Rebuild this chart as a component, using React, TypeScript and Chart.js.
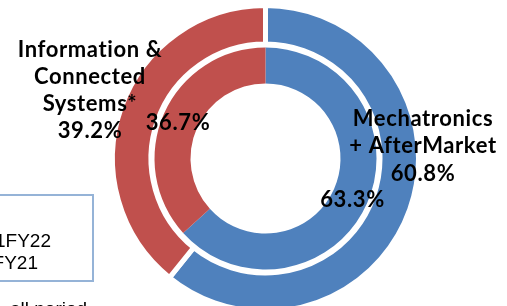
import React, { useEffect, useRef } from "react";
import { Chart, registerables } from "chart.js";

Chart.register(...registerables);

// ---- data ----
const segments = ["Mechatronics + AfterMarket", "Information & Connected Systems*"];
const outerValues = [60.8, 39.2]; // outer ring (H1FY22)
const innerValues = [63.3, 36.7]; // inner ring (FY21)
const segmentColors = ["#4F81BD", "#C0504D"];
const leftLabelLines = ["Information &", "Connected", "Systems*"];
const rightLabelLines = ["Mechatronics", "+ AfterMarket"];
const legendLines = ["H1FY22", "FY21"];
const footnote = "all period";

const pct = (v: number) => `${v.toFixed(1)}%`;

export default function App() {
  const ref = useRef<HTMLCanvasElement>(null);

  useEffect(() => {
    const canvas = ref.current!;
    const labelsPlugin = {
      id: "manualLabels",
      afterDraw(chart: any) {
        const ctx = chart.ctx as CanvasRenderingContext2D;
        const arc = chart.getDatasetMeta(0).data[0];
        const cx = arc.x;
        const cy = arc.y;
        ctx.save();
        ctx.fillStyle = "#000";
        ctx.textBaseline = "alphabetic";
        ctx.textAlign = "center";
        ctx.font = "bold 22px Lato";
        (ctx as any).letterSpacing = "0.6px";
        // left block
        const leftLines = [...leftLabelLines, pct(outerValues[1])];
        leftLines.forEach((t, i) => ctx.fillText(t, cx - 175.5, cy - 101.2 + i * 27));
        ctx.fillText(pct(innerValues[1]), cx - 87.5, cy - 28.5);
        // right block
        const rightLines = [...rightLabelLines, pct(outerValues[0])];
        rightLines.forEach((t, i) => ctx.fillText(t, cx + 157.5, cy - 32.5 + i * 27.3));
        ctx.fillText(pct(innerValues[0]), cx + 87, cy + 48.2);
        (ctx as any).letterSpacing = "0px";

        // legend box (partially off-page)
        ctx.strokeStyle = "#95B3D7";
        ctx.lineWidth = 2;
        ctx.strokeRect(-10, 195, 103, 86);
        ctx.font = "19px 'Liberation Sans', Arial, sans-serif";
        ctx.textAlign = "right";
        ctx.fillText(legendLines[0], 51, 246.7);
        ctx.fillText(legendLines[1], 38, 268.7);
        ctx.textAlign = "left";
        ctx.fillText(footnote, 10, 315);
        ctx.restore();
      },
    };

    const chart = new Chart(canvas, {
      type: "doughnut",
      data: {
        labels: segments,
        datasets: [
          {
            label: "H1FY22",
            data: outerValues,
            backgroundColor: segmentColors,
            borderColor: "#ffffff",
            borderWidth: 5,
            hoverBorderWidth: 5,
            hoverOffset: 0,
            offset: 0,
            weight: 38.5,
          } as any,
          {
            label: "gap",
            data: [1],
            backgroundColor: "rgba(0,0,0,0)",
            borderWidth: 0,
            hoverOffset: 0,
            weight: 3.5,
          } as any,
          {
            label: "FY21",
            data: innerValues,
            backgroundColor: segmentColors,
            borderWidth: 0,
            hoverOffset: 0,
            weight: 36,
          } as any,
        ],
      },
      options: {
        responsive: false,
        animation: false,
        cutout: 75,
        events: [],
        layout: { padding: { left: 110, right: 86, top: 3, bottom: 0 } },
        plugins: {
          legend: { display: false },
          tooltip: { enabled: false },
        },
      } as any,
      plugins: [labelsPlugin],
    });
    return () => chart.destroy();
  }, []);

  return (
    <div style={{ position: "absolute", left: 0, top: 0, width: 507, height: 306, overflow: "hidden", background: "#fff" }}>
      <canvas ref={ref} width={507} height={314} style={{ display: "block", width: 507, height: 314 }} />
    </div>
  );
}
